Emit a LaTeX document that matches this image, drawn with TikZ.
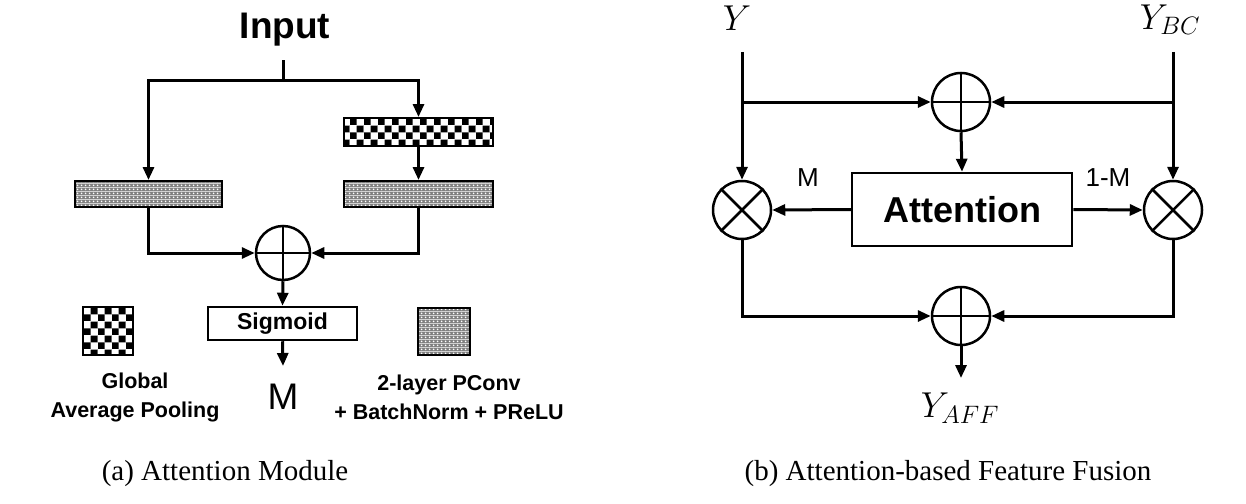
\RequirePackage{fix-cm}
\documentclass[tikz,border=0pt]{standalone}
\usepackage{fontspec}
\setmainfont{Liberation Serif}
\setsansfont{Liberation Sans}
\usetikzlibrary{arrows.meta,patterns.meta,calc}
\tikzdeclarepattern{
  name=chk, type=colored,
  bottom left={(0pt,0pt)}, top right={(14pt,14pt)}, tile size={(14pt,14pt)},
  code={
    \fill[white] (0pt,0pt) rectangle (14pt,14pt);
    \fill[black] (0pt,0pt) rectangle (7pt,7pt);
    \fill[black] (7pt,7pt) rectangle (14pt,14pt);
  }
}
\tikzdeclarepattern{
  name=mesh, type=colored,
  bottom left={(0pt,0pt)}, top right={(4pt,4pt)}, tile size={(4pt,4pt)},
  code={
    \fill[black!50] (0pt,0pt) rectangle (4pt,4pt);
    \fill[white] (2pt,2pt) circle (1.1pt);
  }
}
\begin{document}
\begin{tikzpicture}[x=1pt,y=-1pt,
  ln/.style={line width=3pt},
  arr/.style={line width=3pt,-{Triangle[length=13pt,width=11pt]}},
  chkbox/.style={draw,line width=2pt,pattern=chk,inner sep=0pt},
  meshbox/.style={draw,line width=2pt,pattern=mesh,inner sep=0pt},
  plainbox/.style={draw,line width=2.5pt,fill=white,inner sep=0pt},
  opcirc/.style={draw,circle,line width=2.5pt,inner sep=0pt},
  bsans/.style={font=\sffamily\bfseries\fontsize{#1}{#1}\selectfont},
  rsans/.style={font=\sffamily\fontsize{#1}{#1}\selectfont},
  captext/.style={font=\rmfamily\fontsize{29}{30}\selectfont},
  mlab/.style={font=\fontsize{36}{38}\selectfont}
]
\useasboundingbox (0,0) rectangle (1246,503);
\fill[white] (0,0) rectangle (1246,503);

% ---------- (a) Attention Module ----------
\node[bsans=37] (in) at (285,30) {Input};
\coordinate (stem) at (283,60);
\coordinate (junc) at (283,80);
\node[meshbox,minimum width=147pt,minimum height=26pt] (bL) at (148.5,194) {};
\node[chkbox,minimum width=149pt,minimum height=28pt] (chk) at (418.5,132) {};
\node[meshbox,minimum width=149pt,minimum height=26pt] (bR) at (418.5,194) {};
\node[opcirc,minimum size=54pt] (s1) at (283,253) {};
\draw[line width=2.5pt] (s1.north) -- (s1.south) (s1.west) -- (s1.east);
\node[plainbox,minimum width=149pt,minimum height=33pt,bsans=23] (sig) at (282.5,323.5) {Sigmoid};
\coordinate (mend) at (283,366);
\node[rsans=37] (M) at (283,397) {M};

\draw[ln] (stem) -- (junc);
\draw[arr] (junc) -| (bL.north);
\draw[arr] (junc) -| (chk.north);
\draw[arr] (chk.south) -- (bR.north);
\draw[arr] (bL.south) |- (s1.west);
\draw[arr] (bR.south) |- (s1.east);
\draw[arr] (s1.south) -- (sig.north);
\draw[arr] (sig.south) -- (mend);

% legend
\node[chkbox,minimum width=50pt,minimum height=48pt] (lg1) at (108,331) {};
\node[meshbox,minimum width=52pt,minimum height=47pt] (lg2) at (444,331.5) {};
\node[align=center,font=\sffamily\bfseries\fontsize{21.5}{29}\selectfont] (lt1) at (135,397) {Global\\Average Pooling};
\node[align=center,font=\sffamily\bfseries\fontsize{21.5}{29}\selectfont] (lt2) at (449,397) {2-layer PConv\\+ BatchNorm + PReLU};

% ---------- (b) Attention-based Feature Fusion ----------
\node[mlab] (Y) at (737,18) {$Y$};
\node[mlab] (YBC) at (1170,20) {$Y_{BC}$};
\coordinate (yt) at (742,52);
\coordinate (ybt) at (1173,52);
\node[opcirc,minimum size=58pt] (s2) at (961,102) {};
\draw[line width=2.5pt] (s2.north) -- (s2.south) (s2.west) -- (s2.east);
\node[plainbox,minimum width=220pt,minimum height=73pt,bsans=36] (att) at (962,209.5) {Attention};
\node[opcirc,minimum size=58pt] (mL) at (742,210) {};
\draw[line width=2.5pt] (mL.north west) -- (mL.south east) (mL.north east) -- (mL.south west);
\node[opcirc,minimum size=58pt] (mR) at (1173,210) {};
\draw[line width=2.5pt] (mR.north west) -- (mR.south east) (mR.north east) -- (mR.south west);
\node[opcirc,minimum size=58pt] (s3) at (961,316) {};
\draw[line width=2.5pt] (s3.north) -- (s3.south) (s3.west) -- (s3.east);
\coordinate (oend) at (961,378);
\node[mlab] (YA) at (960,408) {$Y_{AFF}$};
\node[rsans=26] (lM) at (808,178) {M};
\node[rsans=26] (l1M) at (1108,178) {1-M};

\draw[arr] (yt) -- (mL.north);
\draw[arr] (ybt) -- (mR.north);
\draw[arr] (yt |- s2.west) -- (s2.west);
\draw[arr] (ybt |- s2.east) -- (s2.east);
\draw[arr] (s2.south) -- (att.north);
\draw[arr] (att.west) -- (mL.east);
\draw[arr] (att.east) -- (mR.west);
\draw[arr] (mL.south) |- (s3.west);
\draw[arr] (mR.south) |- (s3.east);
\draw[arr] (s3.south) -- (oend);

% captions
\node[captext] (ca) at (225,474) {(a) Attention Module};
\node[captext] (cb) at (948,474) {(b) Attention-based Feature Fusion};
\end{tikzpicture}
\end{document}
